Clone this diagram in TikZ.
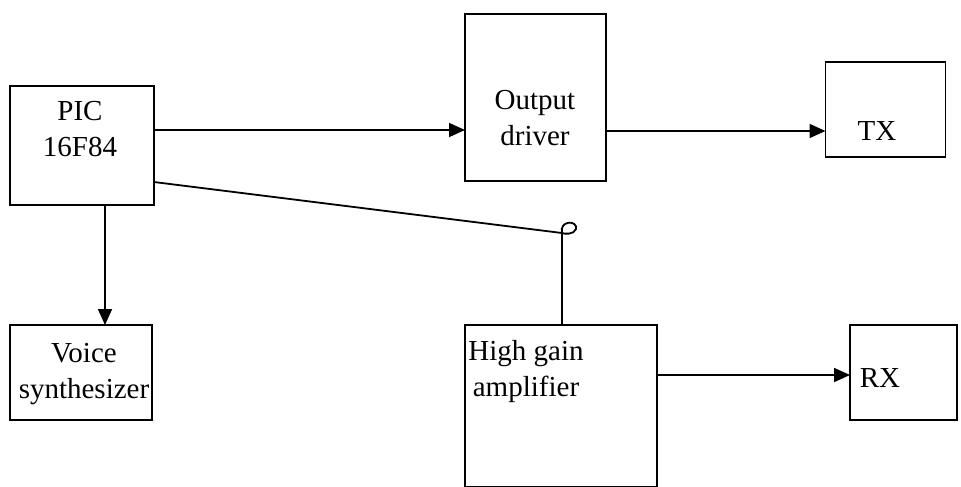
\documentclass[tikz,border=0pt]{standalone}
\usepackage{fontspec}
\setmainfont{Liberation Serif}
\usetikzlibrary{arrows.meta}
\begin{document}
\begin{tikzpicture}[x=1pt,y=-1pt,
  blk/.style={draw,line width=1.8pt,rectangle,inner sep=0pt,outer sep=0pt},
  lbl/.style={inner sep=0pt,font=\fontsize{29}{36}\selectfont,align=center},
  conn/.style={line width=1.8pt},
  arr/.style={conn,-{Triangle[length=16pt,width=14pt]}}]
\useasboundingbox (0,0) rectangle (961,487);
% boxes
\node[blk,minimum width=144pt,minimum height=119pt] (pic) at (82,145.5) {};
\node[blk,minimum width=141pt,minimum height=167pt] (drv) at (535.5,97.5) {};
\node[blk,minimum width=120pt,minimum height=95pt] (tx) at (885.5,109.5) {};
\node[blk,minimum width=142pt,minimum height=95pt] (voice) at (81,372.5) {};
\node[blk,minimum width=192pt,minimum height=162pt] (hga) at (561,406) {};
\node[blk,minimum width=107pt,minimum height=95pt] (rx) at (903.5,372.5) {};
% labels
\node[lbl] (picT) at (80,129) {PIC\\16F84};
\node[lbl] (drvT) at (535,118) {Output\\driver};
\node[lbl] (txT) at (877,131) {TX};
\node[lbl] (voiceT) at (84,374) {Voice\\synthesizer};
\node[lbl] (hgaT) at (526,372) {High gain\\amplifier};
\node[lbl] (rxT) at (880,378) {RX};
% connectors
\draw[arr] (pic.east |- 0,130) -- (drv.west |- 0,130);
\draw[arr] (drv.east |- 0,131) -- (tx.west |- 0,131);
\draw[arr] (pic.south -| 105,0) -- (voice.north -| 105,0);
\draw[arr] (hga.east |- 0,375) -- (rx.west |- 0,375);
\coordinate (hop) at (562,233);
\draw[conn,line cap=round] (pic.east |- 0,182) -- (hop)
  .. controls (559,220) and (578,220) .. (576,229)
  .. controls (574,235) and (564,234) .. (hop)
  -- (hga.north -| hop);
\end{tikzpicture}
\end{document}
